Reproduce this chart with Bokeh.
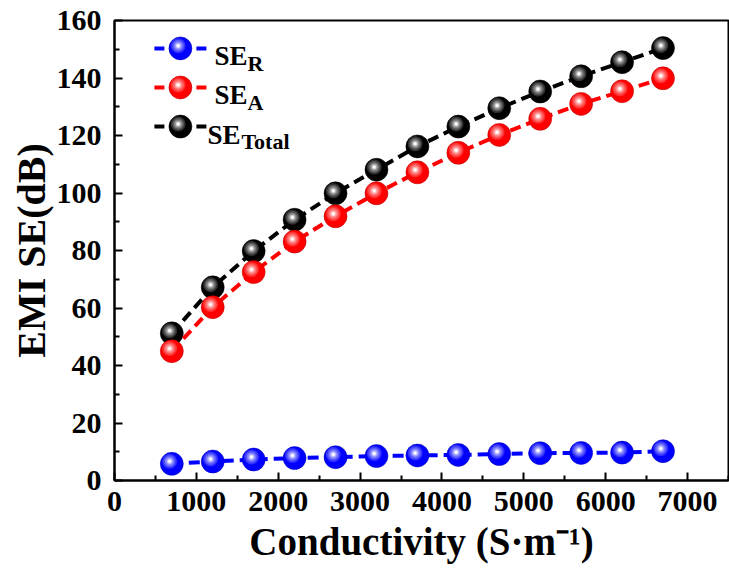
import numpy as np
from bokeh.plotting import figure
from bokeh.models import Range1d, Label, FixedTicker
from bokeh.embed import file_html
from bokeh.resources import INLINE

# ---------------- data ----------------
conductivity = [700, 1200, 1700, 2200, 2700, 3200, 3700, 4200, 4700, 5200, 5700, 6200, 6700]
se_r = [5.8, 6.6, 7.3, 7.8, 8.1, 8.5, 8.7, 8.9, 9.2, 9.5, 9.6, 9.7, 10.2]
se_a = [45.0, 60.3, 72.5, 83.1, 91.9, 99.9, 107.2, 114.0, 120.2, 125.8, 131.0, 135.4, 139.9]
se_total = [51.2, 67.2, 79.8, 90.7, 99.9, 108.1, 116.2, 123.1, 129.5, 135.3, 140.6, 145.5, 150.4]
x_ticks = [0, 1000, 2000, 3000, 4000, 5000, 6000, 7000]
y_ticks = [0, 20, 40, 60, 80, 100, 120, 140, 160]
series_names = ["R", "A", "Total"]

# ---------------- layout ----------------
W, H = 729, 575
BL, BR, BT, BB = 114, 1, 20, 95
X_END, Y_END = 7500, 160
FW, FH = W - BL - BR, H - BT - BB
DXPX = X_END / FW          # data units per pixel (x)
DYPX = Y_END / FH          # data units per pixel (y)
FONT = "Liberation Serif"

p = figure(width=W, height=H, x_range=Range1d(0, X_END), y_range=Range1d(0, Y_END),
           output_backend="svg", toolbar_location=None,
           min_border_left=BL, min_border_right=BR, min_border_top=BT, min_border_bottom=BB)
p.grid.visible = False
p.outline_line_color = "black"
p.outline_line_width = 2
p.background_fill_color = "white"
p.border_fill_color = "white"

x_minor = [t + 500 for t in x_ticks]
y_minor = [t + 10 for t in y_ticks[:-1]]
p.xaxis.ticker = FixedTicker(ticks=x_ticks, minor_ticks=x_minor)
p.yaxis.ticker = FixedTicker(ticks=y_ticks, minor_ticks=y_minor)
p.xaxis.axis_label = "Conductivity (S\u00b7m\u207b\u00b9)"
p.yaxis.axis_label = "EMI SE(dB)"
for ax in (p.xaxis[0], p.yaxis[0]):
    ax.axis_line_width = 2
    ax.major_tick_line_width = 2
    ax.minor_tick_line_width = 2
    ax.major_tick_in = 8
    ax.major_tick_out = 0
    ax.minor_tick_in = 5
    ax.minor_tick_out = 0
    ax.major_label_text_font = FONT
    ax.major_label_text_font_style = "bold"
    ax.major_label_text_font_size = "30px"
    ax.major_label_text_color = "black"
    ax.axis_label_text_font = FONT
    ax.axis_label_text_font_style = "bold"
    ax.axis_label_text_color = "black"
p.xaxis.axis_label_text_font_size = "39px"
p.yaxis.axis_label_text_font_size = "40px"
p.xaxis.major_label_standoff = 11
p.xaxis.axis_label_standoff = 6
p.yaxis.major_label_standoff = 13
p.yaxis.axis_label_standoff = 0


def mix(c1, c2, t):
    a = [int(c1[i:i + 2], 16) for i in (1, 3, 5)]
    b = [int(c2[i:i + 2], 16) for i in (1, 3, 5)]
    return "#%02x%02x%02x" % tuple(int(round(a[k] + (b[k] - a[k]) * t)) for k in range(3))


def sphere(xs, ys, base, light, size=23):
    xs = np.asarray(xs, float)
    ys = np.asarray(ys, float)
    p.scatter(xs, ys, size=size, fill_color=base, line_color=mix(base, "#000000", 0.3), line_width=0.5)
    hx = xs - 2.2 * DXPX
    hy = ys + 2.6 * DYPX
    layers = [(15, 0.3), (12, 0.55), (9, 0.8), (6.5, 1.0)]
    for s, t in layers:
        p.scatter(hx, hy, size=s, fill_color=mix(base, light, t), line_color=None)
    p.scatter(hx, hy, size=4.5, fill_color=mix(light, "#ffffff", 0.6), line_color=None)
    p.scatter(hx, hy, size=2.5, fill_color="#ffffff", line_color=None)


styles = {
    "Total": ("#000000", "#a0a0a0", se_total),
    "A": ("#ff0000", "#ffa0a0", se_a),
    "R": ("#0000ff", "#a0a0ff", se_r),
}

for name in ["Total", "A", "R"]:
    base, light, vals = styles[name]
    p.line(conductivity, vals, line_color=base, line_width=4, line_dash="11 6")
    sphere(conductivity, vals, base, light)

# ---------------- legend (manual, to allow subscripts) ----------------
LEG_X = 805
LEG_Y = {"R": 150.3, "A": 136.7, "Total": 123.1}
for name in series_names:
    base, light, _ = styles[name]
    ly = LEG_Y[name]
    p.multi_line([[LEG_X - 26 * DXPX, LEG_X - 16 * DXPX], [LEG_X + 16 * DXPX, LEG_X + 26 * DXPX]],
                 [[ly, ly], [ly, ly]], line_color=base, line_width=4)
    sphere([LEG_X], [ly], base, light)
    se_off = 27 if name == "Total" else 34
    sub_off = 61 if name == "Total" else 67
    p.add_layout(Label(x=LEG_X, y=ly, x_offset=se_off, y_offset=-8, text="SE",
                       text_font=FONT, text_font_style="bold", text_font_size="27px",
                       text_baseline="alphabetic", text_align="left", text_color="black"))
    p.add_layout(Label(x=LEG_X, y=ly, x_offset=sub_off, y_offset=-15, text=name,
                       text_font=FONT, text_font_style="bold", text_font_size="22px",
                       text_baseline="alphabetic", text_align="left", text_color="black"))

open("out.html", "w").write(file_html(p, INLINE))
